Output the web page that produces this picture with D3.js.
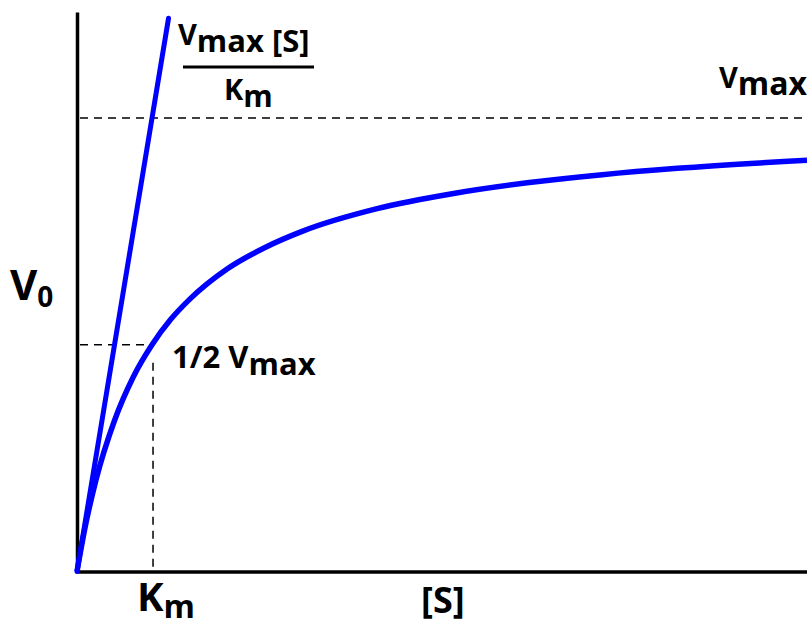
<!DOCTYPE html>
<html>
<head>
<meta charset="utf-8">
<script src="https://cdn.jsdelivr.net/npm/d3@7"></script>
<style>
  html, body { margin: 0; padding: 0; background: #fff; }
  svg text { font-family: "Open Sans", "DejaVu Sans", sans-serif; font-weight: 700; fill: #000; }
</style>
</head>
<body>
<svg id="chart" width="807" height="621"></svg>
<script>
// Michaelis–Menten saturation curve (Km = 1, Vmax = 1 in relative units)
const substrate = [0, 0.1, 0.25, 0.5, 0.75, 1, 1.25, 1.5, 2, 2.5, 3, 4, 5, 6, 7, 8, 9.73];
const velocity  = [0, 0.091, 0.2, 0.333, 0.429, 0.5, 0.556, 0.6, 0.667, 0.714, 0.75, 0.8, 0.833, 0.857, 0.875, 0.889, 0.907];

// Initial-rate tangent Vmax[S]/Km
const tangentS = [0, 1.22];
const tangentV = [0, 1.22];

const Km = 1;
const Vmax = 1;
const halfVmax = 0.5;
const sDomain = [0, 9.73];
const vDomain = [0, 1];

const svg = d3.select("#chart");

const x = d3.scaleLinear().domain(sDomain).range([77, 807]);
const y = d3.scaleLinear().domain(vDomain).range([571.5, 118]);

// Axes: plain lines, no ticks
svg.append("g")
  .attr("transform", `translate(0,${y(0)})`)
  .call(d3.axisBottom(x).tickValues([]).tickSizeOuter(0))
  .call(g => g.select(".domain").attr("stroke", "#000").attr("stroke-width", 3.5));

svg.append("g")
  .attr("transform", `translate(${x(0)},0)`)
  .call(d3.axisLeft(d3.scaleLinear().domain([0, 1]).range([y(0), 12])).tickValues([]).tickSizeOuter(0))
  .call(g => g.select(".domain").attr("stroke", "#000").attr("stroke-width", 3.5));

// Reference guides
const dash = "8,6";
svg.append("line")
  .attr("x1", x(0) + 3).attr("x2", 807)
  .attr("y1", y(Vmax)).attr("y2", y(Vmax))
  .attr("stroke", "#000").attr("stroke-width", 1.5).attr("stroke-dasharray", dash);

svg.append("line")
  .attr("x1", x(0) + 3).attr("x2", x(Km) - 4)
  .attr("y1", y(halfVmax)).attr("y2", y(halfVmax))
  .attr("stroke", "#000").attr("stroke-width", 1.5).attr("stroke-dasharray", dash);

svg.append("line")
  .attr("x1", x(Km) + 1).attr("x2", x(Km) + 1)
  .attr("y1", y(halfVmax) + 18).attr("y2", y(0) - 2)
  .attr("stroke", "#000").attr("stroke-width", 1.5).attr("stroke-dasharray", dash);

// Curves
const curveLine = d3.line()
  .x(d => x(d[0]))
  .y(d => y(d[1]))
  .curve(d3.curveMonotoneX);

svg.append("path")
  .datum(substrate.map((s, i) => [s, velocity[i]]))
  .attr("d", curveLine)
  .attr("fill", "none").attr("stroke", "#0000ff").attr("stroke-width", 5.5);

svg.append("path")
  .datum(tangentS.map((s, i) => [s, tangentV[i]]))
  .attr("d", d3.line().x(d => x(d[0])).y(d => y(d[1])))
  .attr("fill", "none").attr("stroke", "#0000ff").attr("stroke-width", 5)
  .attr("stroke-linecap", "round");

// Labels: main letter with lowered subscript
function subLabel(px, py, main, sub, mainSize, subSize, drop) {
  const t = svg.append("text").attr("x", px).attr("y", py).attr("font-size", mainSize);
  t.append("tspan").text(main);
  t.append("tspan").attr("font-size", subSize).attr("dy", drop).text(sub);
  return t;
}

// Fraction Vmax[S] / Km next to tangent
subLabel(178, 45, "V", "max [S]", 29, 31, 7);
svg.append("line")
  .attr("x1", 183).attr("x2", 314).attr("y1", 67).attr("y2", 67)
  .attr("stroke", "#000").attr("stroke-width", 3);
subLabel(224, 100, "K", "m", 29, 30, 7);

// Vmax label on the asymptote
subLabel(719, 88, "V", "max", 29, 32, 7);

// 1/2 Vmax label
subLabel(172, 368, "1/2 V", "max", 31, 31, 7);

// Axis titles
subLabel(10, 300, "V", "0", 42, 28, 7);
subLabel(137, 611, "K", "m", 40, 32, 7);
svg.append("text").attr("x", 421).attr("y", 613).attr("font-size", 36).text("[S]");
</script>
</body>
</html>
